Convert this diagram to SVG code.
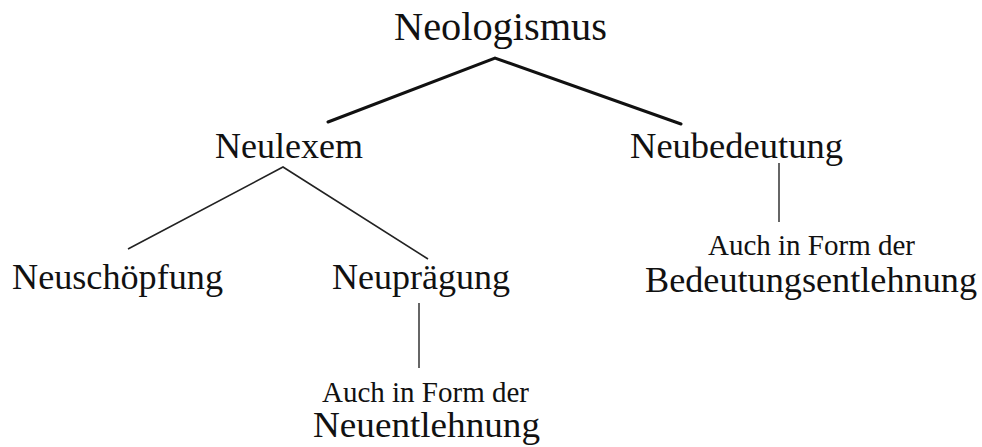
<svg xmlns="http://www.w3.org/2000/svg" width="982" height="447" viewBox="0 0 982 447">
<style>
text{font-family:"Liberation Serif","Times New Roman",serif;fill:#111;}
.l{font-size:36px;}
.xl{font-size:40px;}
.s{font-size:29px;}
.thick{stroke:#111;stroke-width:3;fill:none;stroke-linecap:round;}
.thin{stroke:#222;stroke-width:1.6;fill:none;}
.vert{stroke:#666;stroke-width:2;fill:none;}
</style>
<rect width="982" height="447" fill="#fff"/>
<g id="connectors">
<polyline class="thick" points="328,122 495,58 681,124"/>
<polyline class="thin" points="128,249 283,167 428,259"/>
<line class="vert" x1="419" y1="303" x2="419" y2="368"/>
<line class="vert" x1="779" y1="163" x2="779" y2="222"/>
</g>
<g id="neologismus"><text class="xl" x="394" y="40" textLength="213" lengthAdjust="spacingAndGlyphs">Neologismus</text></g>
<g id="neulexem"><text class="l" x="215" y="158" textLength="148" lengthAdjust="spacingAndGlyphs">Neulexem</text></g>
<g id="neubedeutung"><text class="l" x="630" y="158" textLength="213" lengthAdjust="spacingAndGlyphs">Neubedeutung</text></g>
<g id="neuschoepfung"><text class="l" x="12" y="289" textLength="211" lengthAdjust="spacingAndGlyphs">Neuschöpfung</text></g>
<g id="neupraegung"><text class="l" x="332" y="289" textLength="178" lengthAdjust="spacingAndGlyphs">Neuprägung</text></g>
<g id="neuentlehnung">
<text class="s" x="322" y="402" textLength="207" lengthAdjust="spacingAndGlyphs">Auch in Form der</text>
<text class="l" x="313" y="437" textLength="227" lengthAdjust="spacingAndGlyphs">Neuentlehnung</text>
</g>
<g id="bedeutungsentlehnung">
<text class="s" x="708" y="255" textLength="207" lengthAdjust="spacingAndGlyphs">Auch in Form der</text>
<text class="l" x="645" y="292" textLength="332" lengthAdjust="spacingAndGlyphs">Bedeutungsentlehnung</text>
</g>
</svg>
